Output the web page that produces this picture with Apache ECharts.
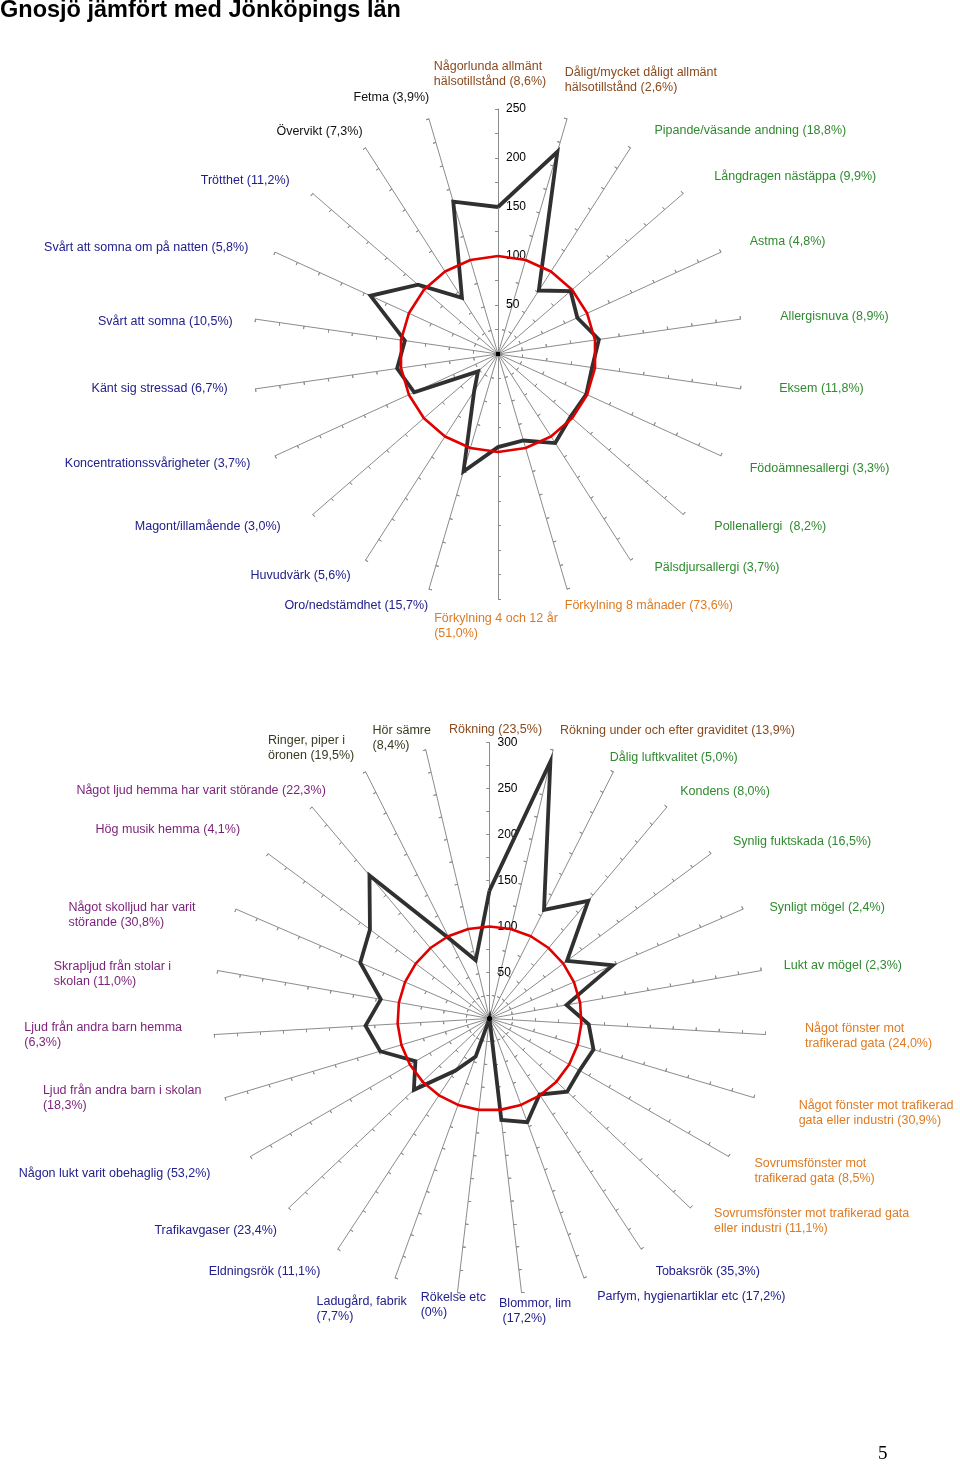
<!DOCTYPE html>
<html><head><meta charset="utf-8">
<script src="https://cdn.jsdelivr.net/npm/echarts@6/dist/echarts.min.js"></script>
<style>html,body{margin:0;padding:0;background:#fff}#c{width:960px;height:1464px}</style>
</head><body><div id="c"></div>
<script>
// ---------- DATA (clockwise from the top spoke) ----------
const titleText = 'Gnosjö jämfört med Jönköpings län';
const pageNumber = '5';

const topCategories = [
  'Någorlunda allmänt\nhälsotillstånd (8,6%)',
  'Dåligt/mycket dåligt allmänt\nhälsotillstånd (2,6%)',
  'Pipande/väsande andning (18,8%)',
  'Långdragen nästäppa (9,9%)',
  'Astma (4,8%)',
  'Allergisnuva (8,9%)',
  'Eksem (11,8%)',
  'Födoämnesallergi (3,3%)',
  'Pollenallergi  (8,2%)',
  'Pälsdjursallergi (3,7%)',
  'Förkylning 8 månader (73,6%)',
  'Förkylning 4 och 12 år\n(51,0%)',
  'Oro/nedstämdhet (15,7%)',
  'Huvudvärk (5,6%)',
  'Magont/illamående (3,0%)',
  'Koncentrationssvårigheter (3,7%)',
  'Känt sig stressad (6,7%)',
  'Svårt att somna (10,5%)',
  'Svårt att somna om på natten (5,8%)',
  'Trötthet (11,2%)',
  'Övervikt (7,3%)',
  'Fetma (3,9%)'
];
const topGroups = ['health','health','resp','resp','resp','resp','resp','resp','resp','resp',
  'cold','cold','mind','mind','mind','mind','mind','mind','mind','mind','weight','weight'];
const topGnosjo = [150, 215, 77, 98, 89, 104, 97, 99, 98, 108, 92, 95, 125, 45, 27, 94, 104, 96, 143, 108, 68, 162];
const topCounty = [100, 100, 100, 100, 100, 100, 100, 100, 100, 100, 100, 100, 100, 100, 100, 100, 100, 100, 100, 100, 100, 100];
const topAxisMax = 250;
const topAxisStep = 25;
const topTickLabels = [50, 100, 150, 200, 250];

const bottomCategories = [
  'Rökning (23,5%)',
  'Rökning under och efter graviditet (13,9%)',
  'Dålig luftkvalitet (5,0%)',
  'Kondens (8,0%)',
  'Synlig fuktskada (16,5%)',
  'Synligt mögel (2,4%)',
  'Lukt av mögel (2,3%)',
  'Något fönster mot\ntrafikerad gata (24,0%)',
  'Något fönster mot trafikerad\ngata eller industri (30,9%)',
  'Sovrumsfönster mot\ntrafikerad gata (8,5%)',
  'Sovrumsfönster mot trafikerad gata\neller industri (11,1%)',
  'Tobaksrök (35,3%)',
  'Parfym, hygienartiklar etc (17,2%)',
  'Blommor, lim\n (17,2%)',
  'Rökelse etc\n(0%)',
  'Ladugård, fabrik\n(7,7%)',
  'Eldningsrök (11,1%)',
  'Trafikavgaser (23,4%)',
  'Någon lukt varit obehaglig (53,2%)',
  'Ljud från andra barn i skolan\n(18,3%)',
  'Ljud från andra barn hemma\n(6,3%)',
  'Skrapljud från stolar i\nskolan (11,0%)',
  'Något skolljud har varit\nstörande (30,8%)',
  'Hög musik hemma (4,1%)',
  'Något ljud hemma har varit störande (22,3%)',
  'Ringer, piper i\nöronen (19,5%)',
  'Hör sämre\n(8,4%)'
];
const bottomGroups = ['health','health','resp','resp','resp','resp','resp',
  'cold','cold','cold','cold','mind','mind','mind','mind','mind','mind','mind','mind',
  'noise','noise','noise','noise','noise','noise','ear','ear'];
const bottomGnosjo = [139, 287, 132, 167, 105, 146, 85, 108, 118, 113, 116, 99, 120, 111, 0, 44, 68, 113, 93, 124, 135, 120, 153, 162, 203, 97, 65];
const bottomCounty = [100, 100, 100, 100, 100, 100, 100, 100, 100, 100, 100, 100, 100, 100, 100, 100, 100, 100, 100, 100, 100, 100, 100, 100, 100, 100, 100];
const bottomAxisMax = 300;
const bottomAxisStep = 25;
const bottomTickLabels = [50, 100, 150, 200, 250, 300];

// ---------- STYLE / LAYOUT ----------
const groupColor = {
  health: '#8a4a1e', resp: '#2f8a2f', cold: '#dd7a22', mind: '#22208c',
  weight: '#111111', noise: '#7a1f78', ear: '#3a3a22'
};
const FONT_FAMILY = '"Liberation Sans", Arial, sans-serif';
const NAME_SIZE = 12.5;
const LINE_H = 15;
const spokeColor = '#8c8c8c';
const TOP_LAYOUT = { center: [498, 354], radius: 245, nameGap: 24 };
const BOTTOM_LAYOUT = { center: [489.5, 1018.5], radius: 276, nameGap: 30 };
// label nudges [dx, dy] relative to the default end-of-spoke placement
const topLabelShift = [[-8,4],[-9,-16],[11,3],[13,-1],[7,-1],[16,1],[15,-4],[7,3],[13,-4],[11,-13],
  [-9,-7],[-2,-12],[6,-7],[-2,-5],[-14,-4],[-3,-2],[-4,-4],[1,6],[-5,5],[-5,3],[10,4],[7,2]];
const bottomLabelShift = [[6,25],[0,10],[-17,12],[-6,7],[-2,6],[-1,10],[-7,0],[10,0],[16,7],[0,0],
  [2,-7],[-2,-3],[3,-9],[-26,-11],[32,-17],[22,3],[-1,-3],[10,2],[-14,2],[5,-8],[-2,-1],
  [-17,9],[-13,18],[-4,-6],[33,6],[2,3],[12,17]];

// ECharts lays radar indicators out counter-clockwise; the source is clockwise.
function ccw(arr) { return [arr[0]].concat(arr.slice(1).reverse()); }

const measureCtx = document.createElement('canvas').getContext('2d');
function blockSize(text) {
  measureCtx.font = NAME_SIZE + 'px ' + FONT_FAMILY;
  const lines = text.split('\n');
  let w = 0;
  lines.forEach(function (l) { w = Math.max(w, measureCtx.measureText(l).width); });
  return { w: w, h: lines.length * LINE_H };
}

const rich = {};
Object.keys(groupColor).forEach(function (g) {
  rich[g] = { align: 'left', color: groupColor[g], fontFamily: FONT_FAMILY, fontSize: NAME_SIZE, lineHeight: LINE_H };
});

function makeRadars(cats, groups, shifts, layout, max, step, tickLabels) {
  const n = cats.length;
  const split = max / step;
  const R = layout.radius + layout.nameGap;
  const cwIndicators = cats.map(function (name, i) {
    const th = Math.PI / 2 - i * 2 * Math.PI / n;
    const c = Math.cos(th), s = Math.sin(th);
    const ax = R * c, ay = -R * s; // anchor relative to centre (screen coords)
    const sz = blockSize(name);
    let defX = ax, defY = ay;
    if (Math.abs(c) < 1e-4) { defY = s > 0 ? ay - sz.h / 2 : ay + sz.h / 2; }
    else if (c > 0) { defX = ax + sz.w / 2; }
    else { defX = ax - sz.w / 2; }
    const sx = defX + shifts[i][0] - ax, sy = defY + shifts[i][1] - ay;
    const ind = {
      name: name.split('\n').map(function (l) { return '{' + groups[i] + '|' + l + '}'; }).join('\n'),
      min: 0, max: max, color: groupColor[groups[i]],
      nameMoveOverlap: false,
      nameTextStyle: {
        align: 'center', verticalAlign: 'middle',
        padding: [Math.max(0, 2 * sy), Math.max(0, -2 * sx), Math.max(0, -2 * sy), Math.max(0, 2 * sx)]
      }
    };
    if (i === 0) {
      ind.axisLabel = { show: true, align: 'left', margin: -8, color: '#000', fontFamily: FONT_FAMILY,
        fontSize: 12, showMinLabel: false,
        formatter: function (v) { return tickLabels.indexOf(v) >= 0 ? String(v) : ''; } };
    }
    return ind;
  });
  const names = ccw(cwIndicators);
  const main = {
    center: layout.center, radius: layout.radius, startAngle: 90, shape: 'polygon', splitNumber: split,
    splitLine: { show: false }, splitArea: { show: false },
    axisLine: { show: true, lineStyle: { color: spokeColor, width: 1 } },
    axisTick: { show: true, length: 3, lineStyle: { color: spokeColor, width: 1 } },
    axisLabel: { show: false },
    axisName: { show: true, fontFamily: FONT_FAMILY, fontSize: NAME_SIZE, lineHeight: LINE_H, rich: rich },
    nameGap: layout.nameGap,
    indicator: names
  };
  const ticks2 = {
    center: layout.center, radius: layout.radius, startAngle: 90, shape: 'polygon', splitNumber: split,
    splitLine: { show: false }, splitArea: { show: false },
    axisLine: { show: false },
    axisTick: { show: true, inside: true, length: 3, lineStyle: { color: spokeColor, width: 1 } },
    axisLabel: { show: false },
    axisName: { show: false },
    indicator: names.map(function () { return { name: '', min: 0, max: max }; })
  };
  return [main, ticks2];
}

const radars = []
  .concat(makeRadars(topCategories, topGroups, topLabelShift, TOP_LAYOUT, topAxisMax, topAxisStep, topTickLabels))
  .concat(makeRadars(bottomCategories, bottomGroups, bottomLabelShift, BOTTOM_LAYOUT, bottomAxisMax, bottomAxisStep, bottomTickLabels));

function seriesFor(radarIndex, gnosjo, county) {
  const zeros = gnosjo.map(function () { return 0; });
  return [
    { type: 'radar', radarIndex: radarIndex, symbol: 'none', silent: true,
      lineStyle: { color: '#303030', width: 3.8, join: 'miter' }, z: 3,
      data: [{ value: ccw(gnosjo), name: 'Gnosjö' }] },
    { type: 'radar', radarIndex: radarIndex, symbol: 'none', silent: true,
      lineStyle: { color: '#e00000', width: 2.6 }, z: 4,
      data: [{ value: ccw(county), name: 'Jönköpings län' }] },
    { type: 'radar', radarIndex: radarIndex, symbol: 'circle', symbolSize: 4, silent: true,
      itemStyle: { color: '#000' }, lineStyle: { width: 0 }, z: 5,
      data: [{ value: zeros, name: 'center' }] }
  ];
}

const chart = echarts.init(document.getElementById('c'), null, { renderer: 'canvas' });
chart.setOption({
  animation: false,
  backgroundColor: '#fff',
  title: [
    { text: titleText, left: 0, top: -1, padding: 0,
      textStyle: { fontFamily: FONT_FAMILY, fontSize: 23.5, fontWeight: 'bold', color: '#000' } },
    { text: pageNumber, left: 878, top: 1445, padding: 0,
      textStyle: { fontFamily: '"Liberation Serif", "DejaVu Serif", serif', fontSize: 19, fontWeight: 'normal', color: '#000' } }
  ],
  radar: radars,
  series: [].concat(seriesFor(0, topGnosjo, topCounty), seriesFor(2, bottomGnosjo, bottomCounty))
});
</script>
</body></html>
